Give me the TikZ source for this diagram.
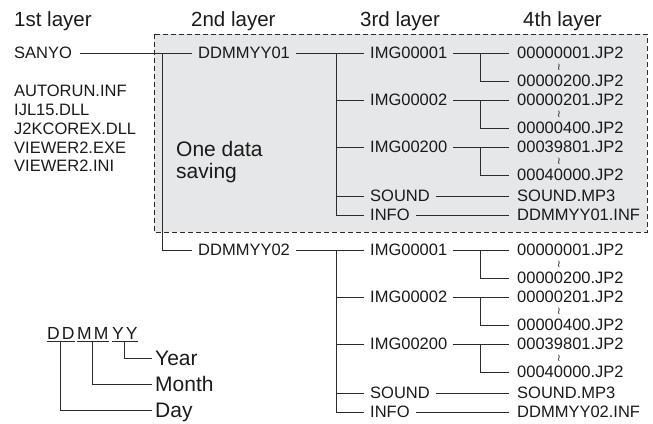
\documentclass[tikz,border=0pt]{standalone}
\usepackage{fontspec}
\setmainfont{Liberation Sans}
\newfontfamily\symfont{DejaVu Sans}
\definecolor{boxgray}{HTML}{E6E7E8}
\definecolor{inkline}{HTML}{2B2B2B}
\definecolor{ink}{HTML}{1A1A1A}
\begin{document}
\begin{tikzpicture}[x=1pt,y=-1pt,
  conn/.style={draw=inkline, line width=0.9pt},
  t/.style={font=\fontsize{16.5}{19}\selectfont, text=ink, inner sep=0pt, inner xsep=5pt, anchor=west, text height=11.8pt, text depth=0pt},
  tc3/.style={t, inner xsep=6pt},
  tc4/.style={t, inner xsep=8pt},
  hd/.style={font=\fontsize{20.5}{24}\selectfont, text=ink, inner sep=0pt, anchor=base west},
  big/.style={font=\fontsize{21}{25}\selectfont, text=ink, inner sep=0pt, anchor=base west},
  wave/.style={font=\symfont\fontsize{10}{10}\selectfont, text=ink, inner sep=0pt, text height=6pt, text depth=1pt},
  leg/.style={font=\fontsize{17.5}{22}\selectfont, text=ink, inner xsep=0pt, inner ysep=2pt, anchor=base west, text depth=0pt},
  legl/.style={font=\fontsize{21}{25}\selectfont, text=ink, inner sep=0pt, inner xsep=3pt, anchor=west, text height=15pt, text depth=0pt}
]
\useasboundingbox (0,0) rectangle (653,423);

% headers
\node[hd] (h1) at (14,26) {1st layer};
\node[hd] (h2) at (191,26) {2nd layer};
\node[hd] (h3) at (360,26) {3rd layer};
\node[hd] (h4) at (523,26) {4th layer};

% one data saving box
\fill[boxgray] (154,34) rectangle (647,232);
\draw[inkline, line width=0.9pt, dash pattern=on 5pt off 3pt] (154,34) rectangle (647,232);
\node[big] (one1) at (176,156) {One data};
\node[big] (one2) at (176,178) {saving};

% 1st layer
\node[t, inner xsep=8pt] (sanyo) at (6,53) {SANYO};
\node[font=\fontsize{16.5}{18.8}\selectfont, text=ink, align=left, anchor=north west, inner sep=0pt] (files) at (14,85) {AUTORUN.INF\\IJL15.DLL\\J2KCOREX.DLL\\VIEWER2.EXE\\VIEWER2.INI};

\newcommand{\dtree}[2]{%
\begin{scope}[shift={(0,#2)}]
  \node[t, inner xsep=6pt] (d#1) at (192,53) {DDMMYY0#1};
  \node[tc3] (ia#1) at (364,53) {IMG00001};
  \node[tc3] (ib#1) at (364,100) {IMG00002};
  \node[tc3] (ic#1) at (364,147) {IMG00200};
  \node[tc3] (snd#1) at (364,196) {SOUND};
  \node[tc3] (inf#1) at (364,215) {INFO};
  \node[tc4] (fa#1) at (509,53) {00000001.JP2};
  \node[tc4] (fb#1) at (509,81) {00000200.JP2};
  \node[tc4] (fc#1) at (509,100) {00000201.JP2};
  \node[tc4] (fd#1) at (509,128) {00000400.JP2};
  \node[tc4] (fe#1) at (509,147) {00039801.JP2};
  \node[tc4] (ff#1) at (509,175) {00040000.JP2};
  \node[tc4] (fsnd#1) at (509,196) {SOUND.MP3};
  \node[tc4] (finf#1) at (509,215) {DDMMYY0#1.INF};
  \node[wave] (wa#1) at (559,68) {≀};
  \node[wave] (wb#1) at (559,115) {≀};
  \node[wave] (wc#1) at (559,162) {≀};
  \coordinate (tr#1) at (336,53);
  \coordinate (sa#1) at (480,53);
  \coordinate (sb#1) at (480,100);
  \coordinate (sc#1) at (480,147);
  \draw[conn] (d#1.east) -- (ia#1.west);
  \draw[conn] (tr#1) |- (inf#1.west);
  \draw[conn] (tr#1 |- ib#1) -- (ib#1.west);
  \draw[conn] (tr#1 |- ic#1) -- (ic#1.west);
  \draw[conn] (tr#1 |- snd#1) -- (snd#1.west);
  \draw[conn] (ia#1.east) -- (fa#1.west);
  \draw[conn] (sa#1) |- (fb#1.west);
  \draw[conn] (ib#1.east) -- (fc#1.west);
  \draw[conn] (sb#1) |- (fd#1.west);
  \draw[conn] (ic#1.east) -- (fe#1.west);
  \draw[conn] (sc#1) |- (ff#1.west);
  \draw[conn] (snd#1.east) -- (fsnd#1.west);
  \draw[conn] (inf#1.east) -- (finf#1.west);
\end{scope}}

\dtree{1}{0}
\dtree{2}{197}

\coordinate (lt) at (162,53);
\draw[conn] (sanyo.east) -- (d1.west);
\draw[conn] (lt) |- (d2.west);

% legend
\node[leg] (dd) at (47,339) {D\kern2ptD};
\node[leg] (mm) at (77,339) {M\kern2ptM};
\node[leg] (yy) at (112,339) {Y\kern2ptY};
\draw[conn] (dd.south west) -- (dd.south east);
\draw[conn] (mm.south west) -- (mm.south east);
\draw[conn] (yy.south west) -- (yy.south east);
\node[legl] (year) at (152,358) {Year};
\node[legl] (month) at (152,384) {Month};
\node[legl] (day) at (152,410) {Day};
\draw[conn] (yy.south) |- (year.west);
\draw[conn] (mm.south) |- (month.west);
\draw[conn] (dd.south) |- (day.west);
\end{tikzpicture}
\end{document}
